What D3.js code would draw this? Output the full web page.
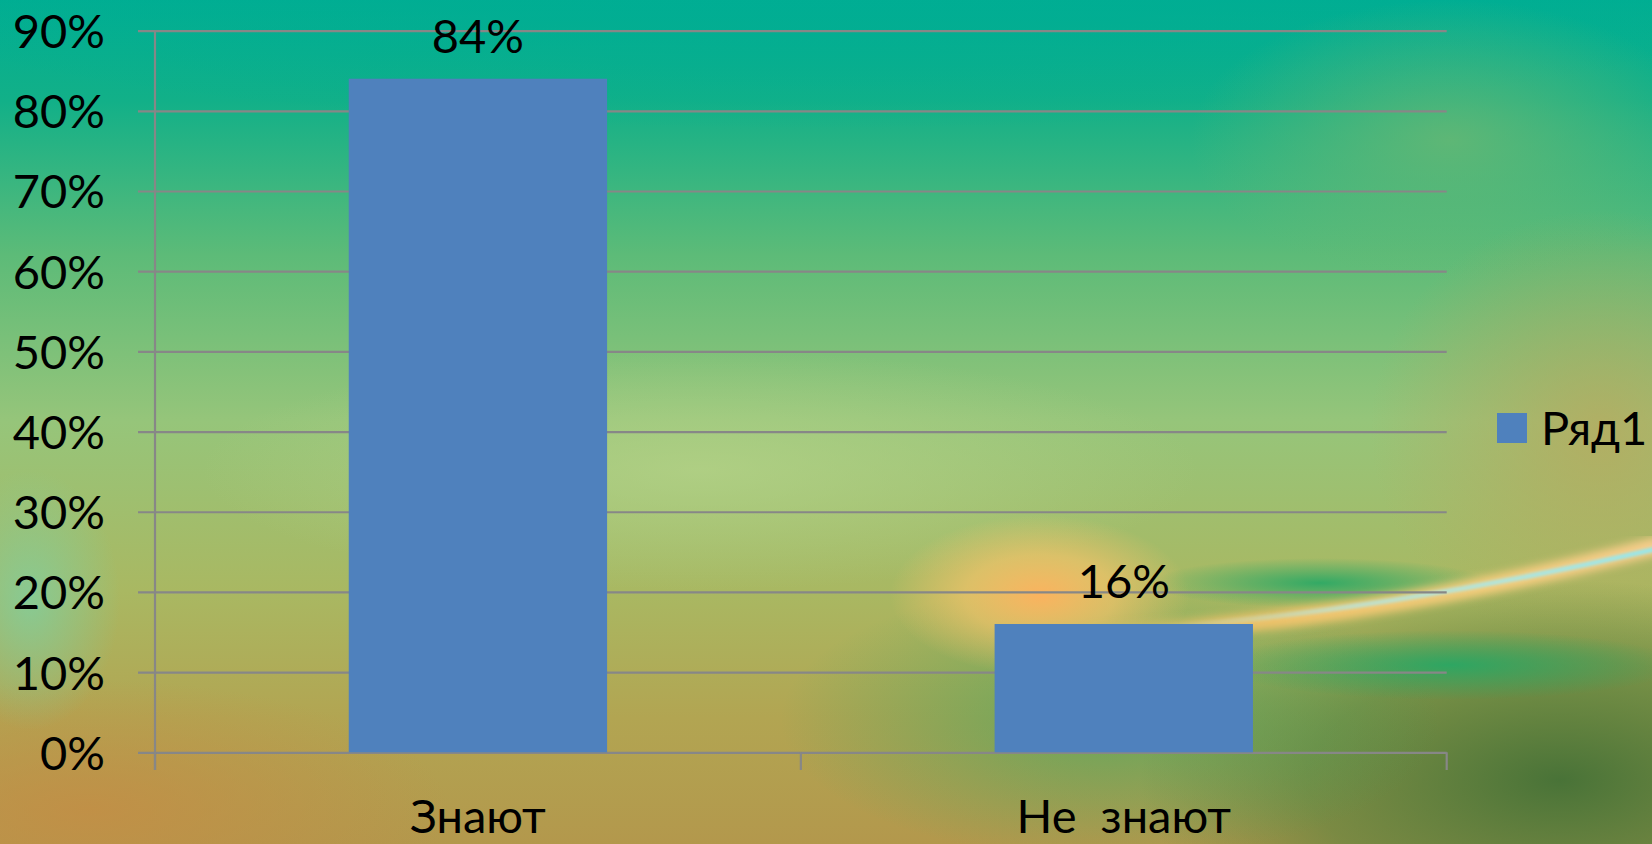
<!DOCTYPE html>
<html><head><meta charset="utf-8">
<script src="https://cdn.jsdelivr.net/npm/d3@7"></script>
<style>html,body{margin:0;padding:0;overflow:hidden;background:#6aa860}svg{display:block}</style>
</head><body>
<script>
const categories = ["Знают", "Не  знают"];
const values = [0.84, 0.16];
const valueLabels = ["84%", "16%"];
const yTicks = [0, 0.1, 0.2, 0.3, 0.4, 0.5, 0.6, 0.7, 0.8, 0.9];
const seriesName = "Ряд1";

const W = 1652, H = 844;
const svg = d3.select("body").append("svg").attr("width", W).attr("height", H);
const defs = svg.append("defs");

// background
const bg = defs.append("linearGradient").attr("id","bg").attr("x1",0).attr("y1",0).attr("x2",0).attr("y2",1);
[[0,"#00ae92"],[0.12,"#12b088"],[0.3,"#5cbb78"],[0.5,"#96c57a"],[0.7,"#a9b862"],[0.85,"#b2a552"],[1,"#b3984c"]]
  .forEach(([o,c])=>bg.append("stop").attr("offset",o).attr("stop-color",c));
svg.append("rect").attr("width",W).attr("height",H).attr("fill","url(#bg)");

function radial(id, stops){
  const g = defs.append("radialGradient").attr("id",id);
  stops.forEach(([o,c,a])=>g.append("stop").attr("offset",o).attr("stop-color",c).attr("stop-opacity",a));
}
radial("rOrange",[[0,"#ffb25e",0.95],[0.5,"#ffc56a",0.6],[1,"#ffc56a",0]]);
radial("rDark",[[0,"#3d6e35",0.9],[0.6,"#4c7d3b",0.55],[1,"#4c7d3b",0]]);
radial("rTeal",[[0,"#00ad94",0.9],[1,"#00ad94",0]]);
radial("rGreen",[[0,"#25a865",0.9],[1,"#25a865",0]]);
radial("rBrown",[[0,"#c48d45",0.8],[1,"#c48d45",0]]);
radial("rOlive",[[0,"#bda55a",0.7],[1,"#bda55a",0]]);
radial("rLight",[[0,"#b7d48a",0.7],[1,"#b7d48a",0]]);
radial("rMint",[[0,"#7fcfa0",0.8],[1,"#7fcfa0",0]]);
radial("rG2",[[0,"#6cb872",0.8],[1,"#6cb872",0]]);

svg.append("ellipse").attr("cx",820).attr("cy",-40).attr("rx",1100).attr("ry",170).attr("fill","url(#rTeal)");
svg.append("ellipse").attr("cx",1450).attr("cy",140).attr("rx",260).attr("ry",140).attr("fill","url(#rG2)");
svg.append("ellipse").attr("cx",1600).attr("cy",430).attr("rx",230).attr("ry",220).attr("fill","url(#rOlive)");
svg.append("ellipse").attr("cx",700).attr("cy",470).attr("rx",500).attr("ry",120).attr("fill","url(#rLight)");
svg.append("ellipse").attr("cx",90).attr("cy",810).attr("rx",360).attr("ry",130).attr("fill","url(#rBrown)");
svg.append("ellipse").attr("cx",30).attr("cy",600).attr("rx",90).attr("ry",130).attr("fill","url(#rMint)");
svg.append("ellipse").attr("cx",1560).attr("cy",780).attr("rx",420).attr("ry",200).attr("fill","url(#rDark)");
svg.append("ellipse").attr("cx",1110).attr("cy",720).attr("rx",330).attr("ry",140).attr("fill","url(#rGreen)").attr("opacity",0.6);
svg.append("ellipse").attr("cx",1040).attr("cy",595).attr("rx",150).attr("ry",80).attr("fill","url(#rOrange)");
svg.append("ellipse").attr("cx",1320).attr("cy",583).attr("rx",170).attr("ry",25).attr("fill","url(#rGreen)");
svg.append("ellipse").attr("cx",1450).attr("cy",665).attr("rx",230).attr("ry",35).attr("fill","url(#rGreen)");

const sw = defs.append("linearGradient").attr("id","sw").attr("x1",0).attr("y1",0).attr("x2",1).attr("y2",0);
[[0,"#ffc46a",0],[0.25,"#ffc46a",0.8],[0.7,"#ffd080",0.9],[1,"#ffd090",0.9]].forEach(([o,c,a])=>sw.append("stop").attr("offset",o).attr("stop-color",c).attr("stop-opacity",a));
const sw2 = defs.append("linearGradient").attr("id","sw2").attr("x1",0).attr("y1",0).attr("x2",1).attr("y2",0);
[[0,"#a8f0ff",0],[0.4,"#a8f0ff",0.6],[1,"#90e8f0",0.95]].forEach(([o,c,a])=>sw2.append("stop").attr("offset",o).attr("stop-color",c).attr("stop-opacity",a));
defs.append("filter").attr("id","blur").append("feGaussianBlur").attr("stdDeviation",4);
defs.append("filter").attr("id","blur2").append("feGaussianBlur").attr("stdDeviation",1.5);
svg.append("path").attr("d","M1080,635 C1250,630 1450,600 1660,545").attr("fill","none").attr("stroke","url(#sw)").attr("stroke-width",18).attr("filter","url(#blur)");
svg.append("path").attr("d","M1150,628 C1300,618 1480,590 1660,548").attr("fill","none").attr("stroke","url(#sw2)").attr("stroke-width",5).attr("filter","url(#blur2)");

// chart
const x = d3.scaleBand().domain(categories).range([155, 1446.7]).paddingInner(0.6).paddingOuter(0.3);
const y = d3.scaleLinear().domain([0, 0.9]).range([752.3, 30.6]);
const grid = "#878787";
const font = "Lato, 'Noto Sans', sans-serif";
const fs = 47;

const yAxis = d3.axisLeft(y).tickValues(yTicks).tickFormat(d3.format(".0%")).tickSize(17).tickPadding(33);
const gy = svg.append("g").attr("transform","translate(155,0)").call(yAxis);
gy.select(".domain").remove();
gy.selectAll(".tick line").attr("stroke",grid).attr("stroke-width",2.2).attr("x2",-17).attr("x1",1446.7-155);
gy.selectAll(".tick text").attr("font-family",font).attr("font-size",fs).attr("fill","#000").attr("dy","0.36em");
svg.append("line").attr("x1",155).attr("x2",155).attr("y1",y(0.9)).attr("y2",770).attr("stroke",grid).attr("stroke-width",2.2);

// category ticks
const bounds = [155, (155+1446.7)/2, 1446.7];
svg.selectAll(".ctick").data(bounds).enter().append("line")
  .attr("x1",d=>d).attr("x2",d=>d).attr("y1",y(0)).attr("y2",770).attr("stroke",grid).attr("stroke-width",2.2);

svg.selectAll(".bar").data(categories).enter().append("rect")
  .attr("x",d=>x(d)).attr("width",x.bandwidth())
  .attr("y",(d,i)=>y(values[i])).attr("height",(d,i)=>y(0)-y(values[i]))
  .attr("fill","#4f81bd");

svg.selectAll(".vl").data(categories).enter().append("text")
  .attr("x",d=>x(d)+x.bandwidth()/2).attr("y",(d,i)=>y(values[i])-26)
  .attr("text-anchor","middle").attr("font-family",font).attr("font-size",fs).attr("fill","#000")
  .text((d,i)=>valueLabels[i]);

svg.selectAll(".cl").data(categories).enter().append("text")
  .attr("x",d=>x(d)+x.bandwidth()/2).attr("y",833)
  .attr("text-anchor","middle").attr("font-family",font).attr("font-size",fs).attr("fill","#000")
  .attr("xml:space","preserve").style("white-space","pre")
  .text(d=>d);

// legend
svg.append("rect").attr("x",1497).attr("y",413).attr("width",30).attr("height",30).attr("fill","#4f81bd");
svg.append("text").attr("x",1541).attr("y",445).attr("font-family",font).attr("font-size",fs).attr("fill","#000").text(seriesName);
</script>
</body></html>
